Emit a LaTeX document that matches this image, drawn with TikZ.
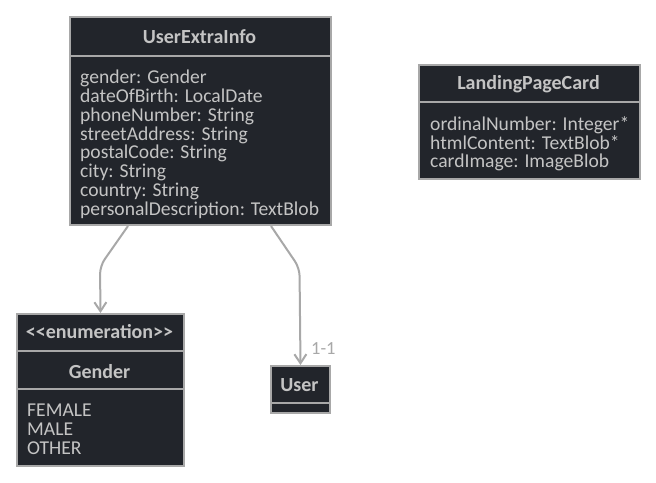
\documentclass[tikz,border=0pt]{standalone}
\usepackage{fontspec}
\setmainfont{Carlito}
\usetikzlibrary{arrows.meta,calc}
\definecolor{boxfill}{HTML}{22252B}
\definecolor{boxline}{HTML}{A8A8A8}
\definecolor{boxtext}{HTML}{C4C4C4}
\tikzset{
  classbox/.style={draw=boxline, line width=2pt, fill=boxfill, anchor=north west, inner sep=0pt},
  divider/.style={draw=boxline, line width=2pt},
  header/.style={text=boxtext, font=\fontsize{20}{19}\selectfont\bfseries, inner sep=0pt},
  attrs/.style={text=boxtext, font=\fontsize{19.6}{18.9}\selectfont, align=left, anchor=north west, inner sep=0pt},
  conn/.style={draw=boxline, line width=2pt, rounded corners=8pt, -{Straight Barb[length=9pt,width=12pt,line width=2pt]}},
  mult/.style={text=boxline, font=\fontsize{18.5}{19}\selectfont, inner sep=0pt, anchor=west}
}
\begin{document}
\begin{tikzpicture}[x=1pt,y=-1pt]
\useasboundingbox[fill=white] (0,0) rectangle (656,482);
% UserExtraInfo
\node[classbox, minimum width=261pt, minimum height=208pt] (uei) at (69,16) {};
\node[header] (ueiname) at (199.5,37) {UserExtraInfo};
\draw[divider] (69,56) -- (330,56);
\node[attrs] (ueiattrs) at (80,69.5) {gender: Gender\\dateOfBirth: LocalDate\\phoneNumber: String\\streetAddress: String\\postalCode: String\\city: String\\country: String\\personalDescription: TextBlob};
% LandingPageCard
\node[classbox, minimum width=221pt, minimum height=114pt] (lpc) at (418,64) {};
\node[header] (lpcname) at (528.5,84) {LandingPageCard};
\draw[divider] (418,102) -- (639,102);
\node[attrs] (lpcattrs) at (430,116) {ordinalNumber: Integer*\\htmlContent: TextBlob*\\cardImage: ImageBlob};
% Gender
\node[classbox, minimum width=167pt, minimum height=152pt] (gen) at (16,313) {};
\node[header] (genstereo) at (99.5,332) {<{}<enumeration>{}>};
\draw[divider] (16,351) -- (183,351);
\node[header] (genname) at (99.5,372) {Gender};
\draw[divider] (16,389) -- (183,389);
\node[attrs] (genvals) at (27,403.5) {FEMALE\\MALE\\OTHER};
% User
\node[classbox, minimum width=59pt, minimum height=47pt] (user) at (270,365) {};
\node[header] (username) at (299.5,385) {User};
\draw[divider] (270,403) -- (329,403);
% connectors
\draw[conn] ($(uei.south west)+(59,0)$) -- (100,266) -- (gen.north);
\draw[conn] ($(uei.south west)+(202,0)$) -- (299.5,268) -- (user.north);
\node[mult] (m11) at (311,349) {1-1};
\end{tikzpicture}
\end{document}
